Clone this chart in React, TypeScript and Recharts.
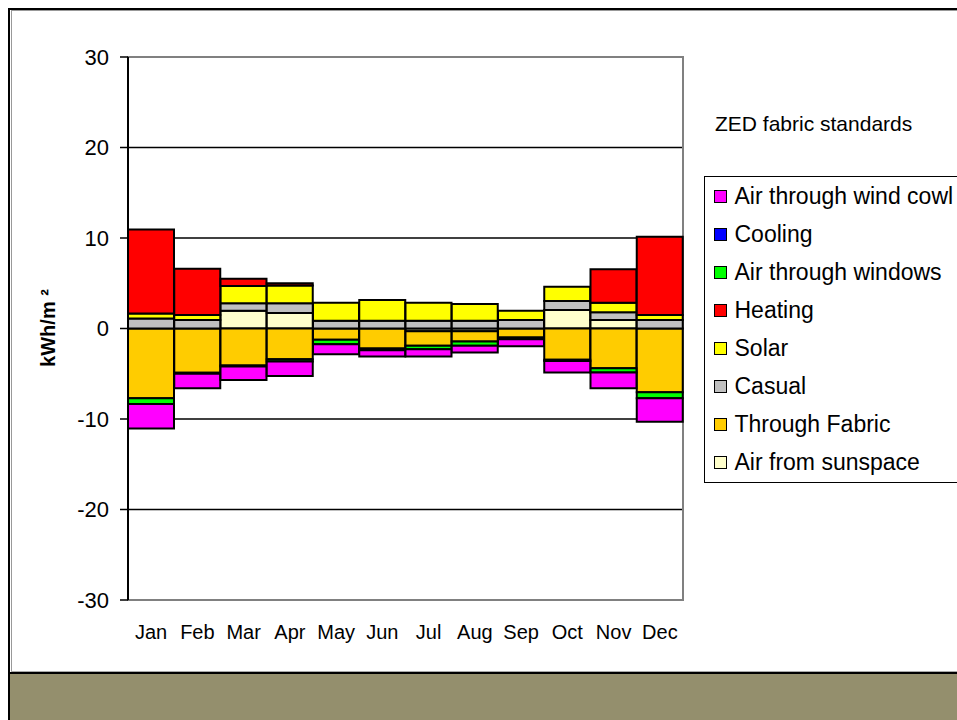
import React from "react";
import { BarChart, Bar, XAxis, YAxis, CartesianGrid, ReferenceArea } from "recharts";

// monthly energy balance, kWh/m2 (gains positive, losses negative)
const months = ["Jan", "Feb", "Mar", "Apr", "May", "Jun", "Jul", "Aug", "Sep", "Oct", "Nov", "Dec"];
const airFromSunspace = [0, 0, 1.95, 1.7, 0, 0, -0.3, -0.3, 0, 2.05, 0.95, 0];
const throughFabric = [-7.7, -4.9, -4.1, -3.4, -1.25, -2.2, -1.6, -1.15, -1.0, -3.45, -4.4, -7.05];
const casual = [1.1, 0.95, 0.85, 1.1, 0.85, 0.85, 0.85, 0.85, 0.95, 1.0, 0.85, 0.95];
const solar = [0.55, 0.55, 1.9, 1.95, 2.0, 2.3, 2.0, 1.85, 1.0, 1.55, 1.05, 0.55];
const heating = [9.3, 5.1, 0.8, 0.25, 0, 0, 0, 0, 0, 0, 3.7, 8.65];
const airThroughWindows = [-0.65, -0.1, -0.1, -0.25, -0.5, -0.2, -0.4, -0.45, -0.2, -0.15, -0.45, -0.65];
const cooling = [0, 0, 0, 0, 0, 0, 0, 0, 0, 0, 0, 0];
const airThroughWindCowl = [-2.7, -1.6, -1.5, -1.6, -1.1, -0.7, -0.8, -0.75, -0.75, -1.25, -1.75, -2.6];

const yTicks = [-30, -20, -10, 0, 10, 20, 30];

// stacking order (bottom first); legend lists them reversed
const series = [
  { key: "sunspace", name: "Air from sunspace", values: airFromSunspace, color: "#FFFFCC" },
  { key: "fabric", name: "Through Fabric", values: throughFabric, color: "#FFCC00" },
  { key: "casual", name: "Casual", values: casual, color: "#C0C0C0" },
  { key: "solar", name: "Solar", values: solar, color: "#FFFF00" },
  { key: "heating", name: "Heating", values: heating, color: "#FF0000" },
  { key: "windows", name: "Air through windows", values: airThroughWindows, color: "#00FF00" },
  { key: "cooling", name: "Cooling", values: cooling, color: "#0000FF" },
  { key: "cowl", name: "Air through wind cowl", values: airThroughWindCowl, color: "#FF00FF" },
];

const chartData = months.map((month, i) => {
  const row: Record<string, any> = { month };
  series.forEach((s) => {
    row[s.key] = s.values[i];
  });
  return row;
});

const FONT = "'Liberation Sans', Arial, sans-serif";

function LegendBox() {
  return (
    <div
      style={{
        position: "absolute",
        left: 696,
        top: 168,
        width: 280,
        height: 307,
        boxSizing: "border-box",
        border: "1.5px solid #000",
        background: "#fff",
        fontFamily: FONT,
        fontSize: 23,
        color: "#000",
      }}
    >
      {[...series].reverse().map((s) => (
        <div key={s.key} style={{ height: 38.1, display: "flex", alignItems: "center" }}>
          <span
            style={{
              display: "inline-block",
              width: 13,
              height: 13,
              boxSizing: "border-box",
              border: "1.5px solid #000",
              background: s.color,
              marginLeft: 8.5,
              marginRight: 8,
            }}
          />
          <span style={{ whiteSpace: "nowrap" }}>{s.name}</span>
        </div>
      ))}
    </div>
  );
}

export default function App() {
  return (
    <div
      style={{
        position: "fixed",
        left: 8,
        top: 8,
        width: 949,
        height: 712,
        overflow: "hidden",
        background: "#fff",
      }}
    >
      {/* slide frame */}
      <div style={{ position: "absolute", left: 0, top: 0, width: 949, height: 2, background: "#000" }} />
      <div style={{ position: "absolute", left: 3, top: 2, width: 946, height: 1, background: "#999" }} />
      <div style={{ position: "absolute", left: 3, top: 2, width: 1, height: 661, background: "#999" }} />
      <div style={{ position: "absolute", left: 3, top: 663, width: 946, height: 1, background: "#aaa" }} />
      <div
        style={{
          position: "absolute",
          left: 0,
          top: 664,
          width: 949,
          height: 48,
          boxSizing: "border-box",
          borderTop: "2px solid #000",
          background: "#948f6d",
        }}
      />
      <div style={{ position: "absolute", left: 0, top: 0, width: 1.5, height: 712, background: "#000" }} />

      <div style={{ position: "absolute", left: 0, top: 0 }}>
        <BarChart
          width={949}
          height={660}
          data={chartData}
          stackOffset="sign"
          barCategoryGap={0}
          margin={{ top: 49, right: 274, bottom: 28, left: 20 }}
        >
          <CartesianGrid vertical={false} stroke="#000" strokeWidth={1.5} />
          {/* plot area outline: grey on top, right and bottom */}
          <ReferenceArea y1={-30} y2={30} fill="none" stroke="#808080" strokeWidth={2} />
          <XAxis
            dataKey="month"
            axisLine={false}
            tickLine={false}
            tickSize={0}
            tickMargin={25}
            height={40}
            interval={0}
            tick={{ fill: "#000", fontSize: 20, fontFamily: FONT }}
          />
          <YAxis
            domain={[-30, 30]}
            ticks={yTicks}
            width={100}
            interval={0}
            stroke="#000"
            axisLine={{ stroke: "#000", strokeWidth: 2 }}
            tickLine={{ stroke: "#000", strokeWidth: 1.5 }}
            tickSize={8}
            tickMargin={11}
            tick={{ fill: "#000", fontSize: 22, fontFamily: FONT }}
          />
          {series.map((s) => (
            <Bar
              key={s.key}
              dataKey={s.key}
              name={s.name}
              stackId="balance"
              fill={s.color}
              stroke="#000"
              strokeWidth={2}
              isAnimationActive={false}
            />
          ))}
        </BarChart>
      </div>

      {/* axis title */}
      <div
        style={{
          position: "absolute",
          left: 40,
          top: 320,
          transform: "translate(-50%, -50%) rotate(-90deg)",
          fontFamily: FONT,
          fontWeight: "bold",
          fontSize: 20,
          whiteSpace: "nowrap",
          color: "#000",
        }}
      >
        kWh/m ²
      </div>

      <div
        style={{
          position: "absolute",
          left: 707,
          top: 104.7,
          fontFamily: FONT,
          fontSize: 21,
          lineHeight: "21px",
          whiteSpace: "nowrap",
          color: "#000",
        }}
      >
        ZED fabric standards
      </div>

      <LegendBox />
    </div>
  );
}
